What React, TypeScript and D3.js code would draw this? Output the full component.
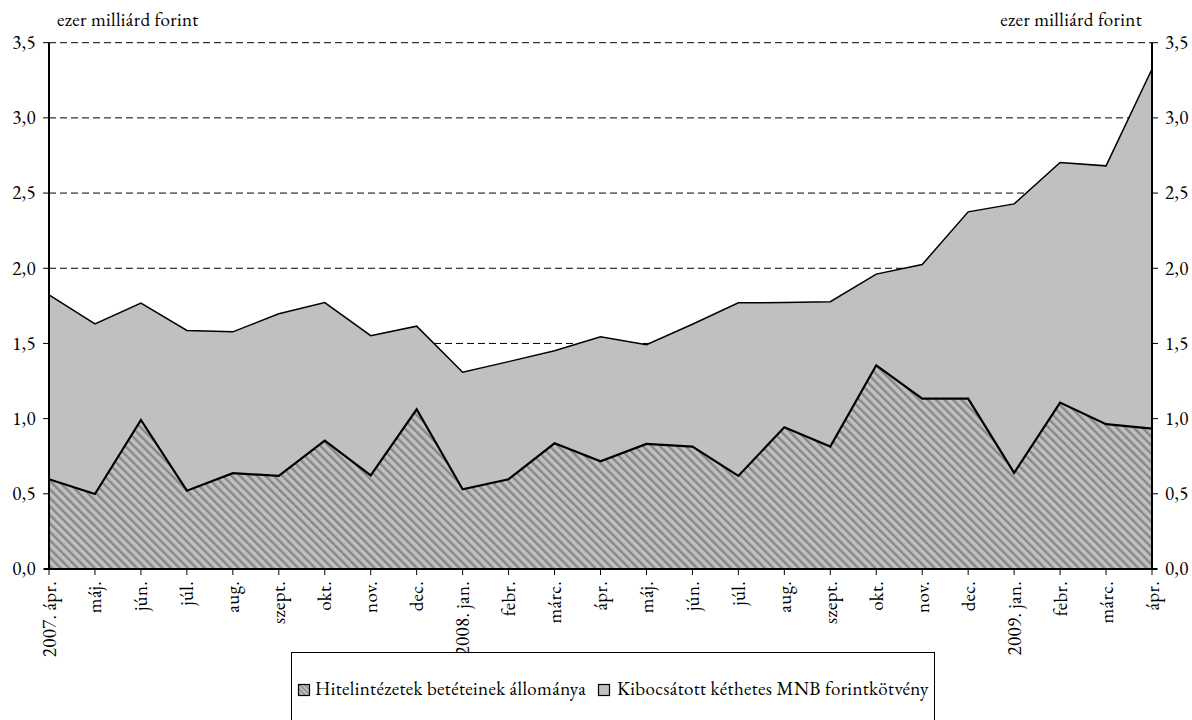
import React from "react";
import * as d3 from "d3";

const categories = [
  "2007. ápr.", "máj.", "jún.", "júl.", "aug.", "szept.", "okt.", "nov.", "dec.",
  "2008. jan.", "febr.", "márc.", "ápr.", "máj.", "jún.", "júl.", "aug.", "szept.", "okt.", "nov.", "dec.",
  "2009. jan.", "febr.", "márc.", "ápr.",
];

const deposits = [
  0.597, 0.499, 0.991, 0.521, 0.637, 0.619, 0.854, 0.623, 1.062,
  0.53, 0.597, 0.836, 0.716, 0.832, 0.814, 0.619, 0.943, 0.814, 1.355, 1.133, 1.133,
  0.639, 1.107, 0.963, 0.934,
];

const bonds = [
  1.226, 1.131, 0.777, 1.065, 0.94, 1.078, 0.918, 0.929, 0.553,
  0.779, 0.782, 0.616, 0.828, 0.66, 0.814, 1.151, 0.829, 0.964, 0.606, 0.892, 1.242,
  1.789, 1.596, 1.718, 2.391,
];

const yTicks = [0, 0.5, 1, 1.5, 2, 2.5, 3, 3.5];
const seriesNames = [
  "Hitelintézetek betéteinek állománya",
  "Kibocsátott kéthetes MNB forintkötvény",
];
const unitLabel = "ezer milliárd forint";

const FONT = '"EB Garamond", "Liberation Serif", serif';

export default function App() {
  const left = 49;
  const right = 1152;
  const top = 42.7;
  const bottom = 569;

  const idx = categories.map((_, i) => i);
  const x = d3.scalePoint<number>().domain(idx).range([left, right]);
  const y = d3.scaleLinear().domain([0, 3.5]).range([bottom, top]);

  const rows = idx.map((i) => ({ i, dep: deposits[i], bond: bonds[i] }));
  const stack = d3.stack<any>().keys(["dep", "bond"]);
  const stacked = stack(rows);

  const area = d3
    .area<any>()
    .x((d: any) => x(d.data.i) as number)
    .y0((d: any) => y(d[0]))
    .y1((d: any) => y(d[1]));
  const line = d3
    .line<any>()
    .x((d: any) => x(d.data.i) as number)
    .y((d: any) => y(d[1]));

  const fmt = (v: number) => v.toFixed(1).replace(".", ",");
  const ts = {
    fontFamily: FONT,
    fontSize: "19px",
    letterSpacing: "0.35px",
    fontVariantNumeric: "lining-nums",
  } as React.CSSProperties;

  return (
    <svg
      width={1192}
      height={720}
      style={{ position: "absolute", left: 0, top: 0, background: "#fff" }}
    >
      <defs>
        <pattern
          id="hatch"
          width="6"
          height="6"
          patternUnits="userSpaceOnUse"
          patternTransform="rotate(-45)"
        >
          <rect width="6" height="6" fill="#c0c0c0" />
          <rect x="0" y="0" width="2.4" height="6" fill="#878787" />
        </pattern>
        <pattern
          id="hatchSmall"
          width="3.5"
          height="3.5"
          patternUnits="userSpaceOnUse"
          patternTransform="rotate(-45)"
        >
          <rect width="3.5" height="3.5" fill="#c0c0c0" />
          <rect x="0" y="0" width="1.4" height="3.5" fill="#878787" />
        </pattern>
      </defs>

      {yTicks.filter((t) => t > 0).map((t) => (
        <line
          key={"g" + t}
          x1={left}
          x2={right}
          y1={y(t)}
          y2={y(t)}
          stroke="#000"
          strokeWidth={1}
          strokeDasharray="7,4"
        />
      ))}

      <path d={area(stacked[1] as any) || ""} fill="#c0c0c0" />
      <path d={area(stacked[0] as any) || ""} fill="url(#hatch)" />
      <path d={line(stacked[1] as any) || ""} fill="none" stroke="#000" strokeWidth={1.5} />
      <path d={line(stacked[0] as any) || ""} fill="none" stroke="#000" strokeWidth={2.2} />

      <line x1={left} x2={left} y1={top} y2={bottom} stroke="#000" strokeWidth={2} />
      <line x1={right} x2={right} y1={top} y2={bottom} stroke="#000" strokeWidth={2} />
      <line x1={left - 5} x2={right + 5} y1={bottom} y2={bottom} stroke="#000" strokeWidth={2} />

      {yTicks.map((t) => (
        <g key={"yt" + t}>
          <line x1={left - 6} x2={left} y1={y(t)} y2={y(t)} stroke="#000" strokeWidth={1} />
          <line x1={right} x2={right + 6} y1={y(t)} y2={y(t)} stroke="#000" strokeWidth={1} />
          <text x={36} y={y(t)} dy="0.33em" textAnchor="end" style={ts} fill="#000">
            {fmt(t)}
          </text>
          <text x={1165} y={y(t)} dy="0.33em" textAnchor="start" style={ts} fill="#000">
            {fmt(t)}
          </text>
        </g>
      ))}

      {idx.map((i) => (
        <g key={"xt" + i}>
          <line
            x1={x(i) as number}
            x2={x(i) as number}
            y1={bottom}
            y2={bottom + 6}
            stroke="#000"
            strokeWidth={1}
          />
          <text
            transform={`translate(${(x(i) as number) + 6.5},${bottom + 12}) rotate(-90)`}
            textAnchor="end"
            style={ts}
            fill="#000"
          >
            {categories[i]}
          </text>
        </g>
      ))}

      <text x={57} y={26} style={ts} fill="#000">
        {unitLabel}
      </text>
      <text x={1142} y={26} textAnchor="end" style={ts} fill="#000">
        {unitLabel}
      </text>

      <rect x={291.5} y={652.5} width={643} height={90} fill="#fff" stroke="#000" strokeWidth={1} />
      <rect x={298.5} y={684.5} width={11} height={11} fill="url(#hatchSmall)" stroke="#000" strokeWidth={1.2} />
      <text x={315} y={695} style={ts} fill="#000">
        {seriesNames[0]}
      </text>
      <rect x={598.5} y={684.5} width={11} height={11} fill="#c0c0c0" stroke="#000" strokeWidth={1.2} />
      <text x={617} y={695} style={ts} fill="#000">
        {seriesNames[1]}
      </text>
    </svg>
  );
}
